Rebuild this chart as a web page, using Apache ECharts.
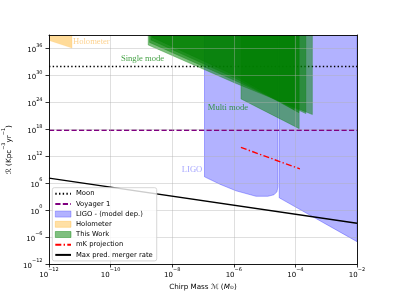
<!DOCTYPE html>
<html><head><meta charset="utf-8">
<script src="https://cdn.jsdelivr.net/npm/echarts@6/dist/echarts.min.js"></script>
<style>html,body{margin:0;padding:0;background:#fff}#c{width:396px;height:297px}</style>
</head><body><div id="c"></div>
<script>
// ---------------- data ----------------
const massRange = [1e-12, 1e-2];          // chirp mass axis (M_sun)
const rateRange = [1e-12, 1e39];          // rate axis (Kpc^-3 yr^-1)
const xTickExponents = [-12, -10, -8, -6, -4, -2];
const yTickExponents = [-12, -6, 0, 6, 12, 18, 24, 30, 36];

const moonRate = 1e32;
const voyagerRate = 6e17;

const maxRateMass = [1e-12, 1e-2];
const maxRateValues = [1.35e7, 1.2e-3];

const mkMass = [1.7e-6, 1.4e-4];
const mkRate = [9.3e13, 1.5e9];

const ligoLeftMass = [1.12e-7, 1.12e-7, 3.57e-7, 1.18e-6, 5.25e-6, 1.28e-5, 2.01e-5, 2.51e-5, 2.71e-5, 2.71e-5];
const ligoLeftRate = [1e40, 2.6e7, 5.6e5, 2.0e4, 1.2e3, 1.2e3, 2.6e3, 1.2e4, 1.5e5, 1e40];
const ligoRightMass = [2.99e-5, 2.99e-5, 1e-2, 1e-2];
const ligoRightRate = [1e40, 5.5e2, 9.5e-8, 1e40];

const holoMass = [1e-12, 1e-12, 5.6e-12, 5.6e-12];
const holoRate = [1e40, 6e37, 1.2e36, 1e40];

const work1Mass = [2.26e-9, 2.26e-9, 1.09e-6, 8.93e-5, 8.93e-5];
const work1Rate = [1e40, 2.9e38, 9.4e29, 2.4e22, 1e40];
const work2Mass = [2.04e-9, 2.04e-9, 1.09e-6, 1.30e-4, 1.30e-4];
const work2Rate = [1e40, 7.9e37, 2.6e29, 5.1e21, 1e40];
const work3Mass = [1.84e-9, 1.84e-9, 1.09e-6, 2.19e-4, 2.19e-4];
const work3Rate = [1e40, 2.2e37, 7.2e28, 3.1e21, 1e40];
const work4Mass = [1.66e-9, 1.66e-9, 1.09e-6, 3.56e-4, 3.56e-4];
const work4Rate = [1e40, 6.0e36, 2.0e28, 1.9e21, 1e40];
const multiMass = [1.71e-6, 1.71e-6, 1.33e-4, 1.33e-4];
const multiRate = [1e40, 5.9e24, 1.4e18, 1e40];

const annotationText = ['Holometer', 'Single mode', 'Multi mode', 'LIGO'];
const annotationMass = [6.0e-12, 2.16e-10, 1.43e-7, 2.05e-8];
const annotationRate = [3.7e37, 5.9e33, 5.8e22, 9.8e8];

const legendNames = ['Moon', 'Voyager 1', 'LIGO - (model dep.)', 'Holometer', 'This Work', 'mK projection', 'Max pred. merger rate'];

// ---------------- styles ----------------
const C = {
  ligo: 'rgba(0,0,255,0.3)', holo: 'rgba(255,165,0,0.4)', work: 'rgba(0,128,0,0.5)',
  moon: '#000', voyager: '#800080', mk: '#ff0000', maxRate: '#000',
  annot: ['rgba(250,160,20,0.6)', '#168a16', '#168a16', 'rgba(60,60,255,0.6)']
};
const FONT = 'DejaVu Sans';
const L = Math.log10;
const sup = n => (n < 0 ? '\u2212' + (-n) : '' + n);

function polySeries(name, polys, fill, stroke, lw, z) {
  return {
    type: 'custom', name, z, clip: true, silent: true,
    itemStyle: { color: fill },
    data: polys.map(p => [L(p[0][0]), L(p[1][1])]),
    encode: { x: 0, y: 1 },
    renderItem: (params, api) => {
      const p = polys[params.dataIndex];
      const pts = p[0].map((m, k) => api.coord([L(m), L(p[1][k])]));
      return { type: 'polygon', shape: { points: pts }, style: { fill, stroke, lineWidth: lw } };
    }
  };
}
function lineSeries(name, xs, ys, color, width, dash, z) {
  return {
    type: 'line', name, z, clip: true, silent: true, symbol: 'none', showSymbol: false,
    data: xs.map((x, i) => [L(x), L(ys[i])]),
    lineStyle: { color, width, type: dash, cap: 'butt' },
    itemStyle: { color }
  };
}

const labelRich = {
  b: { fontSize: 7, fontFamily: FONT, color: '#000', lineHeight: 11, verticalAlign: 'bottom' },
  s: { fontSize: 5, fontFamily: FONT, color: '#000', lineHeight: 4, verticalAlign: 'top' }
};
const nameRich = {
  t: { fontSize: 7.2, fontFamily: FONT, color: '#000', lineHeight: 11, verticalAlign: 'bottom' },
  i: { fontSize: 7.2, fontFamily: FONT, fontStyle: 'italic', color: '#000', lineHeight: 11, verticalAlign: 'bottom' },
  s: { fontSize: 5, fontFamily: FONT, color: '#000', lineHeight: 4, verticalAlign: 'top' },
  d: { fontSize: 5, fontFamily: FONT, color: '#000', lineHeight: 13, verticalAlign: 'bottom' }
};
const gridLine = { show: true, lineStyle: { color: 'rgba(176,176,176,0.5)', width: 0.8 } };
const frame = { show: true, onZero: false, lineStyle: { color: '#000', width: 0.9 } };
const noMarker = { color: 'rgba(0,0,0,0)', opacity: 0, borderWidth: 0 };

const option = {
  animation: false,
  textStyle: { fontFamily: FONT },
  grid: { left: 49, right: 39, top: 35, bottom: 33, outerBoundsMode: 'none', containLabel: false },
  xAxis: [{
    type: 'value', min: L(massRange[0]), max: L(massRange[1]), interval: 2, z: 3.5,
    axisLine: frame,
    axisTick: { show: true, length: 3.5, lineStyle: { color: '#000', width: 0.8 } },
    axisLabel: { margin: 3.5, verticalAlign: 'top',
      formatter: v => { const n = Math.round(v); return xTickExponents.indexOf(n) < 0 ? '' : '{b|10}{s|' + sup(n) + '}'; },
      rich: labelRich },
    splitLine: gridLine,
    name: '{t|Chirp Mass \u2133 (}{i|M}{d|\u2299}{t|)}', nameLocation: 'middle', nameGap: 13.5,
    nameTextStyle: { rich: nameRich }
  }, {
    type: 'value', position: 'top', min: L(massRange[0]), max: L(massRange[1]), z: 3.5,
    axisLine: frame, axisTick: { show: false }, axisLabel: { show: false }, splitLine: { show: false }
  }],
  yAxis: [{
    type: 'value', min: L(rateRange[0]), max: L(rateRange[1]), interval: 6, z: 3.5,
    axisLine: frame,
    axisTick: { show: true, length: 3.5, customValues: yTickExponents, lineStyle: { color: '#000', width: 0.8 } },
    axisLabel: { margin: 6.5, customValues: yTickExponents,
      formatter: v => { const n = Math.round(v); return yTickExponents.indexOf(n) < 0 ? '' : '{b|10}{s|' + sup(n) + '}'; },
      rich: labelRich },
    splitLine: gridLine,
    name: '{t|\u211B (Kpc}{s|\u22123}{t|yr}{s|\u22121}{t|)}', nameLocation: 'middle', nameRotate: 90, nameGap: 31,
    nameTextStyle: { rich: nameRich }
  }, {
    type: 'value', position: 'right', min: L(rateRange[0]), max: L(rateRange[1]), z: 3.5,
    axisLine: frame, axisTick: { show: false }, axisLabel: { show: false }, splitLine: { show: false }
  }],
  legend: {
    orient: 'vertical', left: 52.3, top: 187.7, z: 10,
    itemWidth: 15.7, itemHeight: 6, itemGap: 2.2, padding: [2, 4, 2, 2],
    backgroundColor: 'rgba(255,255,255,0.8)', borderColor: '#cccccc', borderWidth: 0.8, borderRadius: 2,
    textStyle: { fontSize: 6.8, fontFamily: FONT, color: '#000', lineHeight: 8 },
    selectedMode: false,
    data: [
      { name: legendNames[0], itemStyle: noMarker },
      { name: legendNames[1], itemStyle: noMarker },
      { name: legendNames[2], icon: 'rect', itemStyle: { color: C.ligo, borderColor: C.ligo, borderWidth: 0.8 } },
      { name: legendNames[3], icon: 'rect', itemStyle: { color: 'rgba(255,165,0,0.35)', borderColor: 'rgba(255,165,0,0.35)', borderWidth: 0.8 } },
      { name: legendNames[4], icon: 'rect', itemStyle: { color: C.work, borderColor: C.work, borderWidth: 0.8 } },
      { name: legendNames[5], itemStyle: noMarker },
      { name: legendNames[6], itemStyle: noMarker }
    ]
  },
  series: [
    polySeries(legendNames[2], [[ligoLeftMass, ligoLeftRate], [ligoRightMass, ligoRightRate]], C.ligo, C.ligo, 1, 1),
    polySeries(legendNames[3], [[holoMass, holoRate]], C.holo, 'rgba(255,165,0,0.2)', 0.6, 1),
    lineSeries(legendNames[0], massRange, [moonRate, moonRate], C.moon, 1.4, [1.4, 2.3], 2),
    lineSeries(legendNames[1], massRange, [voyagerRate, voyagerRate], C.voyager, 1.4, [5.2, 2.3], 2),
    polySeries(legendNames[4], [[work4Mass, work4Rate], [work3Mass, work3Rate], [work2Mass, work2Rate], [work1Mass, work1Rate], [multiMass, multiRate]], C.work, C.work, 0.6, 3),
    lineSeries(legendNames[5], mkMass, mkRate, C.mk, 1.4, [6, 2.3, 1.4, 2.3], 4),
    lineSeries(legendNames[6], maxRateMass, maxRateValues, C.maxRate, 1.4, 'solid', 4),
    {
      type: 'scatter', z: 6, silent: true, symbolSize: 0, clip: false,
      data: annotationText.map((t, i) => ({
        value: [L(annotationMass[i]), L(annotationRate[i])],
        label: { show: true, formatter: t, position: [0, 0], align: 'left', verticalAlign: 'middle',
          fontFamily: 'Liberation Serif', fontSize: 8.6, color: C.annot[i] }
      }))
    }
  ]
};
const chart = echarts.init(document.getElementById('c'), null, { renderer: 'canvas' });
chart.setOption(option);
</script></body></html>
